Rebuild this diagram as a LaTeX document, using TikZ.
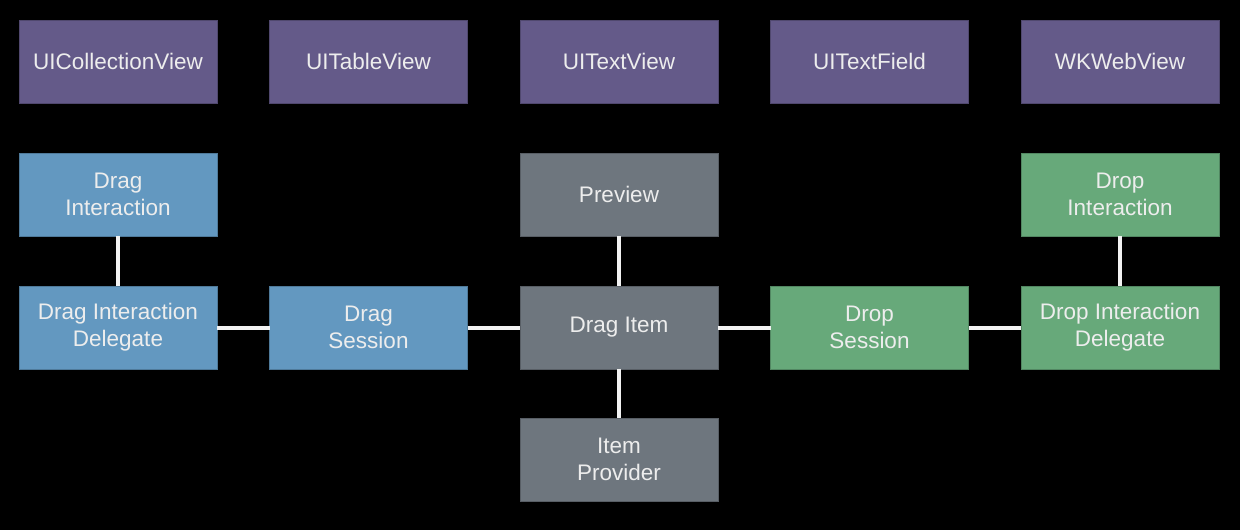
\documentclass[tikz,border=0pt]{standalone}
\usepackage{fontspec}
\setmainfont{Liberation Sans}
\usetikzlibrary{positioning}

\definecolor{viewpurple}{HTML}{645A89}
\definecolor{dragblue}{HTML}{6398C0}
\definecolor{itemgray}{HTML}{6E767E}
\definecolor{dropgreen}{HTML}{67A97A}

\tikzset{
    box/.style={rectangle, minimum width=198pt, minimum height=83pt, inner sep=0pt, outer sep=0pt,
        align=center, text=white!93!black, font=\fontsize{22.5}{27}\selectfont},
    view/.style={box, fill=viewpurple, draw=viewpurple!80!black, line width=0.5pt},
    drag/.style={box, fill=dragblue, draw=dragblue!80!black, line width=0.5pt},
    item/.style={box, fill=itemgray, draw=itemgray!80!black, line width=0.5pt},
    drop/.style={box, fill=dropgreen, draw=dropgreen!80!black, line width=0.5pt},
    link/.style={draw=white!95!black, line width=4pt},
}

\begin{document}
\begin{tikzpicture}[x=1pt, y=-1pt, node distance=50pt and 52.5pt] % drag and drop API overview
    \fill[black] (0,0) rectangle (1240,530);

    % views that support drag and drop
    \node [view] (collection) at (118,61.5) {UICollectionView};
    \node [view, right=of collection] (tableview) {UITableView};
    \node [view, right=of tableview] (textview) {UITextView};
    \node [view, right=of textview] (textfield) {UITextField};
    \node [view, right=of textfield] (webview) {WKWebView};

    % drag side
    \node [drag, below=of collection] (draginter) {Drag\\Interaction};
    \node [drag, below=of draginter] (dragdel) {Drag Interaction\\Delegate};
    \node [drag, right=of dragdel] (dragsess) {Drag\\Session};

    % items
    \node [item, below=of textview] (preview) {Preview};
    \node [item, below=of preview] (dragitem) {Drag Item};
    \node [item, below=49pt of dragitem] (provider) {Item\\Provider};

    % drop side
    \node [drop, below=of webview] (dropinter) {Drop\\Interaction};
    \node [drop, below=of dropinter] (dropdel) {Drop Interaction\\Delegate};
    \node [drop, left=of dropdel] (dropsess) {Drop\\Session};

    \draw [link] (draginter) -- (dragdel);
    \draw [link] (dragdel) -- (dragsess);
    \draw [link] (dragsess) -- (dragitem);
    \draw [link] (preview) -- (dragitem);
    \draw [link] (dragitem) -- (provider);
    \draw [link] (dragitem) -- (dropsess);
    \draw [link] (dropsess) -- (dropdel);
    \draw [link] (dropinter) -- (dropdel);
\end{tikzpicture}
\end{document}
